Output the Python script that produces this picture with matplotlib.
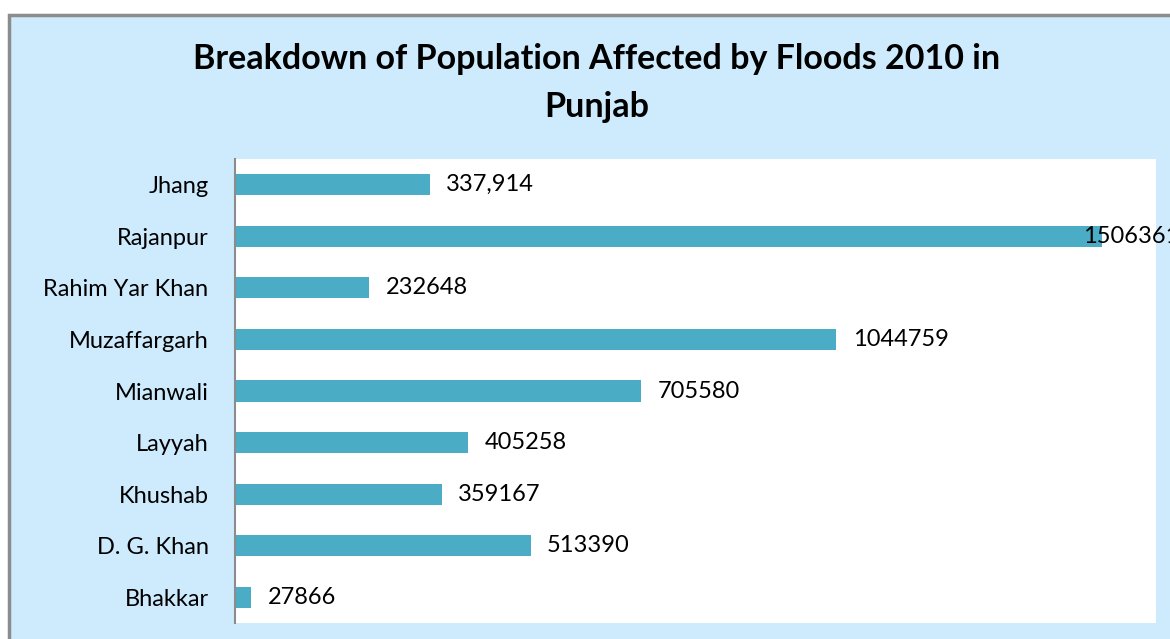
import matplotlib.pyplot as plt
from matplotlib.patches import Rectangle

districts = ['Bhakkar', 'D. G. Khan', 'Khushab', 'Layyah', 'Mianwali',
             'Muzaffargarh', 'Rahim Yar Khan', 'Rajanpur', 'Jhang']
affected = [27866, 513390, 359167, 405258, 705580, 1044759, 232648, 1506361, 337914]
value_labels = ['27866', '513390', '359167', '405258', '705580',
                '1044759', '232648', '1506361', '337,914']

W, H = 1170, 639
bg = '#cdebfd'
bar_color = '#4bacc6'
font = ['Lato', 'DejaVu Sans']

fig = plt.figure(figsize=(W / 100, H / 100), dpi=100)
fig.patch.set_facecolor('white')

# chart area box with gray border
fig.patches.append(Rectangle((9 / W, -0.05), 1.2, (H - 15) / H + 0.05,
                             transform=fig.transFigure, facecolor=bg,
                             edgecolor='#8c8c8c', linewidth=2.5, zorder=-5))

ax = fig.add_axes([235 / W, 16 / H, 921 / W, 464 / H])
ax.set_facecolor('white')

ypos = range(len(districts))
ax.barh(ypos, affected, height=0.41, color=bar_color)
ax.set_xlim(0, 1600000)
ax.set_ylim(-0.5, len(districts) - 0.5)
ax.set_yticks(list(ypos))
ax.set_yticklabels(districts, fontsize=17, family=font)
ax.tick_params(axis='y', length=0, pad=19)
ax.set_xticks([])
for s in ['top', 'right', 'bottom']:
    ax.spines[s].set_visible(False)
ax.spines['left'].set_color('#8c8c8c')
ax.spines['left'].set_linewidth(1.5)

for y, v, lab in zip(ypos, affected, value_labels):
    off = -14 if v == max(affected) else 12
    ax.annotate(lab, (v, y), xytext=(off, 0), textcoords='offset points',
                va='center', ha='left', fontsize=17, family=font,
                annotation_clip=False)

fig.text(597 / W, 1 - 83 / H, 'Breakdown of Population Affected by Floods 2010 in\nPunjab',
         ha='center', va='center', fontsize=24.5, fontweight='bold', family=font,
         linespacing=1.6)

fig.savefig('out.png', dpi=100)
